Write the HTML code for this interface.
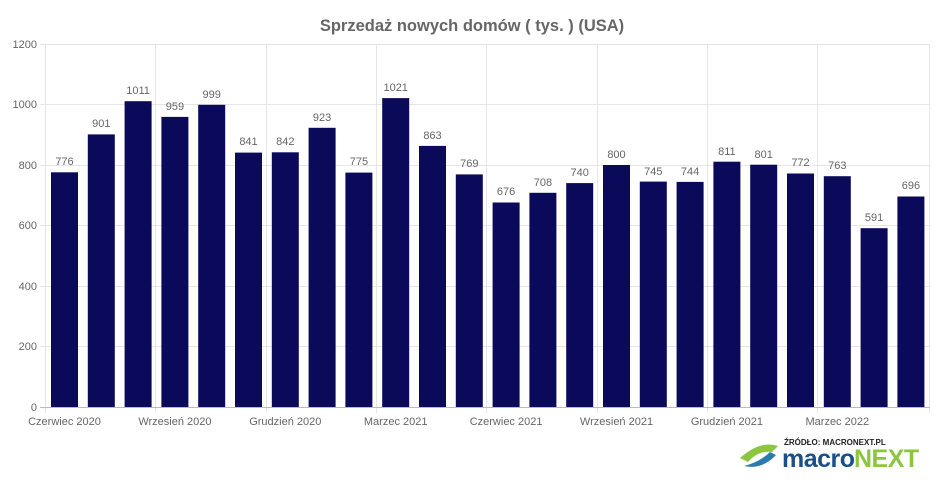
<!DOCTYPE html>
<html><head><meta charset="utf-8"><style>
html,body{margin:0;padding:0;background:#fff;}
svg{display:block;font-family:"Liberation Sans",Arial,sans-serif;}
</style></head><body>
<svg width="945" height="482" viewBox="0 0 945 482" xmlns="http://www.w3.org/2000/svg">
<text x="472" y="31" text-anchor="middle" font-size="16.5" font-weight="bold" fill="#666">Sprzedaż nowych domów ( tys. ) (USA)</text>
<g stroke="#e6e6e6" stroke-width="1">
<line x1="40" y1="44.5" x2="930" y2="44.5"/><line x1="40" y1="104.5" x2="930" y2="104.5"/><line x1="40" y1="165.5" x2="930" y2="165.5"/><line x1="40" y1="225.5" x2="930" y2="225.5"/><line x1="40" y1="286.5" x2="930" y2="286.5"/><line x1="40" y1="346.5" x2="930" y2="346.5"/>
<line x1="45.5" y1="44" x2="45.5" y2="413"/><line x1="155.5" y1="44" x2="155.5" y2="413"/><line x1="266.5" y1="44" x2="266.5" y2="413"/><line x1="376.5" y1="44" x2="376.5" y2="413"/><line x1="486.5" y1="44" x2="486.5" y2="413"/><line x1="597.5" y1="44" x2="597.5" y2="413"/><line x1="707.5" y1="44" x2="707.5" y2="413"/><line x1="817.5" y1="44" x2="817.5" y2="413"/><line x1="929.5" y1="44" x2="929.5" y2="413"/>
</g>
<line x1="40" y1="407.5" x2="930" y2="407.5" stroke="#bbb"/>
<g font-size="11" fill="#666" text-anchor="end">
<text x="37" y="48">1200</text><text x="37" y="108">1000</text><text x="37" y="169">800</text><text x="37" y="229">600</text><text x="37" y="290">400</text><text x="37" y="350">200</text><text x="37" y="411">0</text>
</g>
<g fill="#0b0a5a">
<rect x="51" y="172.3" width="27" height="234.7"/>
<rect x="87.8" y="134.4" width="27" height="272.6"/>
<rect x="124.6" y="101.2" width="27" height="305.8"/>
<rect x="161.4" y="116.9" width="27" height="290.1"/>
<rect x="198.2" y="104.8" width="27" height="302.2"/>
<rect x="235" y="152.6" width="27" height="254.4"/>
<rect x="271.8" y="152.3" width="27" height="254.7"/>
<rect x="308.6" y="127.8" width="27" height="279.2"/>
<rect x="345.4" y="172.6" width="27" height="234.4"/>
<rect x="382.2" y="98.1" width="27" height="308.9"/>
<rect x="419" y="145.9" width="27" height="261.1"/>
<rect x="455.8" y="174.4" width="27" height="232.6"/>
<rect x="492.6" y="202.5" width="27" height="204.5"/>
<rect x="529.4" y="192.8" width="27" height="214.2"/>
<rect x="566.2" y="183.1" width="27" height="223.9"/>
<rect x="603" y="165" width="27" height="242"/>
<rect x="639.8" y="181.6" width="27" height="225.4"/>
<rect x="676.6" y="181.9" width="27" height="225.1"/>
<rect x="713.4" y="161.7" width="27" height="245.3"/>
<rect x="750.2" y="164.7" width="27" height="242.3"/>
<rect x="787" y="173.5" width="27" height="233.5"/>
<rect x="823.8" y="176.2" width="27" height="230.8"/>
<rect x="860.6" y="228.2" width="27" height="178.8"/>
<rect x="897.4" y="196.5" width="27" height="210.5"/>
</g>
<g font-size="11" fill="#666" text-anchor="middle">
<text x="64.5" y="165">776</text><text x="101.3" y="127">901</text><text x="138.1" y="94">1011</text><text x="174.9" y="110">959</text><text x="211.7" y="98">999</text><text x="248.5" y="145">841</text><text x="285.3" y="145">842</text><text x="322.1" y="121">923</text><text x="358.9" y="165">775</text><text x="395.7" y="91">1021</text><text x="432.5" y="139">863</text><text x="469.3" y="167">769</text><text x="506.1" y="195">676</text><text x="542.9" y="186">708</text><text x="579.7" y="176">740</text><text x="616.5" y="158">800</text><text x="653.3" y="175">745</text><text x="690.1" y="175">744</text><text x="726.9" y="155">811</text><text x="763.7" y="158">801</text><text x="800.5" y="166">772</text><text x="837.3" y="169">763</text><text x="874.1" y="221">591</text><text x="910.9" y="189">696</text>
</g>
<g font-size="11" fill="#666" text-anchor="middle">
<text x="64.5" y="425">Czerwiec 2020</text><text x="174.9" y="425">Wrzesień 2020</text><text x="285.3" y="425">Grudzień 2020</text><text x="395.7" y="425">Marzec 2021</text><text x="506.1" y="425">Czerwiec 2021</text><text x="616.5" y="425">Wrzesień 2021</text><text x="726.9" y="425">Grudzień 2021</text><text x="837.3" y="425">Marzec 2022</text>
</g>
<text x="784" y="445" font-size="8" font-weight="bold" fill="#222">ŹRÓDŁO: MACRONEXT.PL</text>
<path d="M740 458 Q760 440 778 446 L772 452 Q758 450 748 462 Z" fill="#8cc63f"/>
<path d="M744 466 Q762 470 776 455 L770 452 Q760 462 744 466 Z" fill="#2a7ab0"/>
<text x="782" y="467" font-size="25" font-weight="bold" fill="#1b4f8a" letter-spacing="-0.5">macro</text>
<text x="854" y="467" font-size="25" font-weight="bold" fill="#8cc63f" letter-spacing="-0.5">NEXT</text>
</svg>
</body></html>
